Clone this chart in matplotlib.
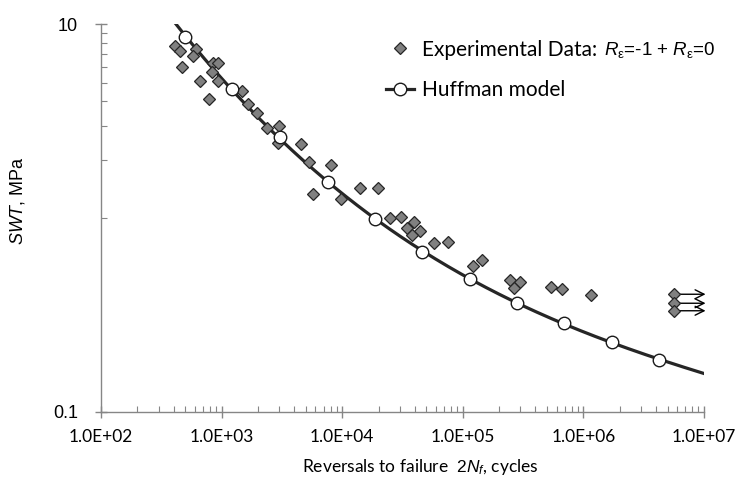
import numpy as np
import matplotlib
matplotlib.use("Agg")
import matplotlib.pyplot as plt
from matplotlib.ticker import FixedLocator, NullFormatter, FixedFormatter

plt.rcParams['mathtext.fontset'] = 'custom'
plt.rcParams['mathtext.rm'] = 'Liberation Sans'
plt.rcParams['mathtext.it'] = 'Liberation Sans:italic'

# Experimental data (reversals, SWT MPa)
exp_n = [412, 450, 615, 584, 473, 662, 789, 856, 941, 840, 925,
         1483, 1670, 1956, 2370, 2990, 2935, 4557, 5310, 8135, 5732,
         9790, 14160, 19900, 24990, 31020, 39170, 34460, 43770, 37780,
         57540, 75510, 122300, 143800, 246200, 300300, 265200, 536000,
         670600, 1152000]
exp_swt = [7.73, 7.24, 7.43, 6.86, 6.04, 5.11, 4.13, 6.31, 6.31, 5.64, 5.10,
           4.53, 3.86, 3.50, 2.90, 3.00, 2.43, 2.40, 1.95, 1.885, 1.326,
           1.26, 1.43, 1.43, 0.996, 1.008, 0.957, 0.888, 0.857, 0.820,
           0.739, 0.756, 0.565, 0.607, 0.479, 0.469, 0.434, 0.438,
           0.428, 0.400]
# Run-outs
runout_n = [5.63e6, 5.63e6, 5.63e6]
runout_swt = [0.404, 0.363, 0.332]
runout_end = 1.03e7

# Huffman model points
huff_n = [500, 1220, 3030, 7600, 18600, 45900, 114000, 281000, 692000,
          1720000, 4260000]
huff_swt = [8.63, 4.63, 2.61, 1.54, 0.985, 0.670, 0.483, 0.366, 0.288,
            0.228, 0.185]

fig = plt.figure(figsize=(7.4, 4.87), dpi=100)
ax = fig.add_axes([101/740, 1-411.7/487, (704-101)/740, (411.7-24.3)/487])
ax.set_xscale('log')
ax.set_yscale('log')
ax.set_xlim(1e2, 1e7)
ax.set_ylim(0.1, 10)

# Model curve (fit in log space through model points)
coef = np.polyfit(np.log10(huff_n), np.log10(huff_swt), 3)
lx = np.linspace(2.5, 7.0, 300)
ax.plot(10**lx, 10**np.polyval(coef, lx), color='#262626', lw=2.3, zorder=2)
ax.plot(huff_n, huff_swt, 'o', ms=9, mfc='white', mec='#1a1a1a', mew=1.0,
        zorder=4, clip_on=False)

ax.plot(exp_n, exp_swt, 'D', ms=6, mfc='#808080', mec='#262626', mew=0.9,
        zorder=3)
for xn, ys in zip(runout_n, runout_swt):
    ax.annotate('', xy=(runout_end, ys), xytext=(xn, ys),
                arrowprops=dict(arrowstyle='->', color='black', lw=1.0,
                                mutation_scale=16, shrinkA=0, shrinkB=0),
                annotation_clip=False, zorder=5)
ax.plot(runout_n, runout_swt, 'D', ms=6, mfc='#808080', mec='#262626',
        mew=0.9, zorder=6, clip_on=False)

# Legend (manual handles)
h1, = ax.plot([], [], 'D', ms=6, mfc='#808080', mec='#262626', mew=0.9,
              linestyle='none')
h2, = ax.plot([], [], '-o', color='#262626', lw=2.3, ms=9, mfc='white',
              mec='#1a1a1a', mew=1.0)
leg = ax.legend([h1, h2], ['Experimental Data:', 'Huffman model'],
                loc='upper left', bbox_to_anchor=(386/740, 1-39.5/487),
                bbox_transform=fig.transFigure, frameon=False,
                prop={'family': 'Lato', 'size': 15.0}, handlelength=1.35,
                handletextpad=0.4, labelspacing=1.0, borderpad=0,
                borderaxespad=0)

# Spines & ticks
for s in ['top', 'right']:
    ax.spines[s].set_visible(False)
for s in ['left', 'bottom']:
    ax.spines[s].set_color('#868686')
    ax.spines[s].set_linewidth(1.0)

ax.xaxis.set_major_locator(FixedLocator([1e2, 1e3, 1e4, 1e5, 1e6, 1e7]))
ax.xaxis.set_major_formatter(FixedFormatter(['1.0E+02', '1.0E+03', '1.0E+04',
                                             '1.0E+05', '1.0E+06', '1.0E+07']))
xminor = [m * 10**d for d in range(2, 7) for m in range(2, 10)]
ax.xaxis.set_minor_locator(FixedLocator(xminor))
ax.xaxis.set_minor_formatter(NullFormatter())

ax.yaxis.set_major_locator(FixedLocator([0.1, 10]))
ax.yaxis.set_major_formatter(FixedFormatter(['0.1', '10']))
ax.yaxis.set_minor_locator(FixedLocator([1, 2, 3, 4, 5, 6, 7, 8, 9]))
ax.yaxis.set_minor_formatter(NullFormatter())

ax.tick_params(which='major', direction='inout', length=9, width=1.0,
               color='#868686')
ax.tick_params(which='minor', direction='in', length=4, width=0.8,
               color='#868686')
ax.tick_params(axis='x', which='major', pad=8)
ax.tick_params(axis='y', which='major', pad=12)
for t in ax.get_xticklabels():
    t.set_fontfamily('Lato')
    t.set_fontsize(12.5)
for t in ax.get_yticklabels():
    t.set_fontfamily('Liberation Sans')
    t.set_fontsize(13)

fig.text(420/740, 1-467/487, 'Reversals to failure  $2N_f$, cycles',
         ha='center', va='center', fontfamily='Lato', fontsize=12.5)
fig.text(18/740, 1-200/487, '$\\mathit{SWT}$, MPa', rotation=90,
         ha='center', va='center', fontfamily='Liberation Sans', fontsize=13)

# Append the math part of the first legend label
fig.canvas.draw()
r = fig.canvas.get_renderer()
lt = leg.get_texts()[0]
bb = lt.get_window_extent(r)
base = lt.get_transform().transform(lt.get_position())
fig.text((bb.x1 + 6) / 740, base[1] / 487,
         '$R_{\\mathrm{\u03b5}}$=-1 + $R_{\\mathrm{\u03b5}}$=0',
         ha='left', va='baseline', fontfamily='Liberation Sans', fontsize=13.5)

fig.savefig('out.png', dpi=100)
